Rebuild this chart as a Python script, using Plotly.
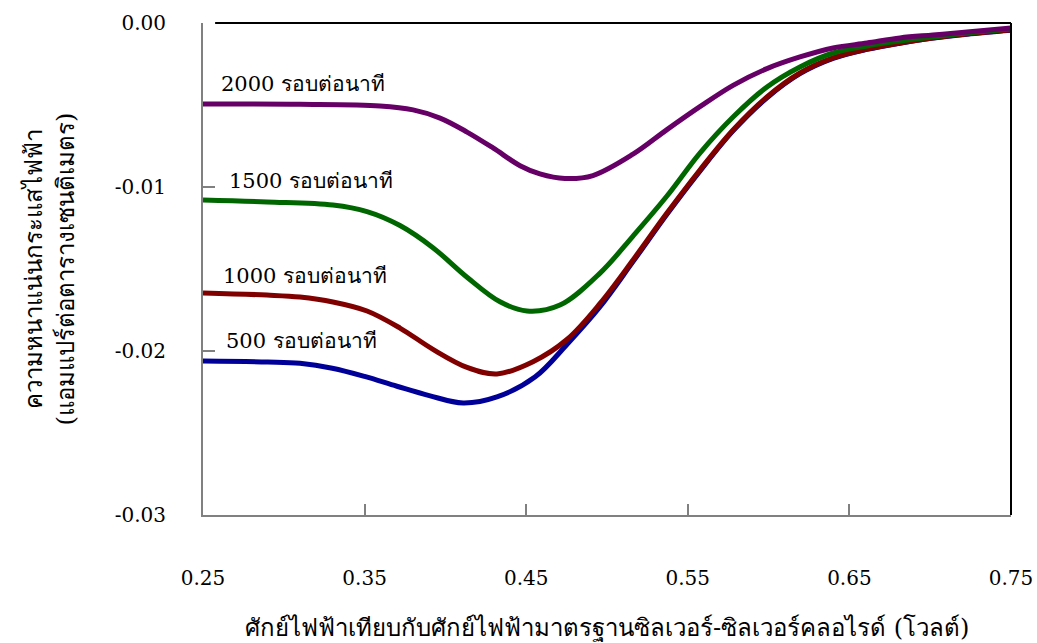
import plotly.graph_objects as go

# Potential (V vs Ag/AgCl) and current density (A/cm^2) for each rotation rate
x_2000 = [0.25, 0.310, 0.3595, 0.380, 0.3967, 0.4134, 0.4295, 0.4462, 0.4585, 0.474, 0.4913,
          0.5161, 0.5371, 0.5575, 0.578, 0.599, 0.6194, 0.6399, 0.6609, 0.6813, 0.7017, 0.7228,
          0.75]
y_2000 = [-0.00494, -0.00496, -0.00506, -0.0053, -0.0058, -0.00665, -0.00762, -0.0087, -0.0092,
          -0.00948, -0.0093, -0.0080, -0.0065, -0.0051, -0.0038, -0.00278, -0.00207, -0.00152,
          -0.00122, -0.00091, -0.00073, -0.00055, -0.0003]

x_1500 = [0.25, 0.2896, 0.3304, 0.3515, 0.3719, 0.3923, 0.4134, 0.4338, 0.4505, 0.4709, 0.4957,
          0.5161, 0.5371, 0.5575, 0.578, 0.599, 0.6194, 0.6399, 0.6609, 0.6813, 0.7017, 0.7228,
          0.75]
y_1500 = [-0.01079, -0.01091, -0.0111, -0.0115, -0.01235, -0.0137, -0.0155, -0.0170, -0.01756,
          -0.0172, -0.01525, -0.01299, -0.01055, -0.00793, -0.00573, -0.0039, -0.00268, -0.00183,
          -0.0014, -0.0011, -0.00085, -0.00061, -0.00037]

x_1000 = [0.25, 0.2896, 0.310, 0.3304, 0.3515, 0.3719, 0.3923, 0.4134, 0.4319, 0.4542, 0.4752,
          0.4957, 0.5161, 0.5371, 0.5575, 0.578, 0.599, 0.6194, 0.6399, 0.6609, 0.6813, 0.7017,
          0.7228, 0.75]
y_1000 = [-0.01646, -0.01659, -0.01671, -0.01701, -0.01756, -0.0186, -0.0199, -0.0210, -0.0214,
          -0.02065, -0.0193, -0.0171, -0.01445, -0.01159, -0.00896, -0.00652, -0.00451, -0.00305,
          -0.00213, -0.00159, -0.00122, -0.00091, -0.00067, -0.00043]

x_500 = [0.25, 0.29, 0.31, 0.33, 0.35, 0.37, 0.39, 0.411, 0.4319, 0.4554, 0.4752, 0.4957,
         0.5161, 0.5371, 0.5575, 0.578, 0.599, 0.6194, 0.6399, 0.6609, 0.6813, 0.7017, 0.7228,
         0.75]
y_500 = [-0.02061, -0.02067, -0.02075, -0.02105, -0.02155, -0.02215, -0.02272, -0.02317, -0.0228,
         -0.02159, -0.0196, -0.0173, -0.01455, -0.01166, -0.00903, -0.00658, -0.00456, -0.00309,
         -0.00216, -0.00161, -0.00123, -0.00092, -0.00068, -0.00044]

series = [
    ("500 รอบต่อนาที", x_500, y_500, "#000099", -0.01939),
    ("1000 รอบต่อนาที", x_1000, y_1000, "#800000", -0.0154),
    ("1500 รอบต่อนาที", x_1500, y_1500, "#006600", -0.00963),
    ("2000 รอบต่อนาที", x_2000, y_2000, "#660066", -0.00369),
]
label_x = [0.263, 0.2611, 0.2649, 0.2599]

x_ticks = [0.25, 0.35, 0.45, 0.55, 0.65, 0.75]
y_ticks = [0.0, -0.01, -0.02, -0.03]

x_title = "ศักย์ไฟฟ้าเทียบกับศักย์ไฟฟ้ามาตรฐานซิลเวอร์-ซิลเวอร์คลอไรด์ (โวลต์)"
y_title = "ความหนาแน่นกระแสไฟฟ้า<br>(แอมแปร์ต่อตารางเซนติเมตร)"

serif = "DejaVu Serif"

fig = go.Figure()
for name, xs, ys, color, _ in series:
    fig.add_trace(go.Scatter(x=xs, y=ys, mode="lines", name=name,
                             line=dict(color=color, width=5, shape="spline", smoothing=1.0)))

for (name, xs, ys, color, ly), lx in zip(series, label_x):
    fig.add_annotation(x=lx, y=ly, xref="x", yref="y", text=name, showarrow=False,
                       xanchor="left", yanchor="middle",
                       font=dict(family=serif, size=21, color="black"))

fig.add_annotation(x=0.5, y=-0.23, xref="paper", yref="paper", text=x_title, showarrow=False,
                   xanchor="center", yanchor="middle",
                   font=dict(family=serif, size=24, color="black"))
fig.add_annotation(x=-0.19, y=0.5, xref="paper", yref="paper", text=y_title, showarrow=False,
                   textangle=-90, xanchor="center", yanchor="middle",
                   font=dict(family=serif, size=24, color="black"))

# black frame on the top and right sides
fig.add_shape(type="line", xref="paper", yref="paper", x0=0.015, x1=1, y0=1, y1=1,
              line=dict(color="black", width=2))
fig.add_shape(type="line", xref="paper", yref="paper", x0=1, x1=1, y0=0, y1=1,
              line=dict(color="black", width=2))

fig.update_xaxes(range=[0.25, 0.75], tickvals=x_ticks, ticktext=[f"{v:.2f}" for v in x_ticks],
                 ticks="inside", ticklen=11, tickcolor="#808080", tickwidth=1.5,
                 showline=True, linecolor="#808080", linewidth=2, showgrid=False, zeroline=False,
                 automargin=False,
                 ticklabelstandoff=44, tickfont=dict(family=serif, size=20, color="black"))
fig.update_yaxes(range=[-0.03, 0], tickvals=y_ticks, ticktext=[f"{v:.2f}" for v in y_ticks],
                 ticks="inside", ticklen=12, tickcolor="#808080", tickwidth=1.5,
                 showline=True, linecolor="#808080", linewidth=2, showgrid=False, zeroline=False,
                 automargin=False,
                 ticklabelstandoff=31, tickfont=dict(family=serif, size=20, color="black"))

fig.update_layout(width=1037, height=643, margin=dict(l=203, r=26, t=23, b=128),
                  plot_bgcolor="white", paper_bgcolor="white", showlegend=False)

fig.write_html("out.html")
